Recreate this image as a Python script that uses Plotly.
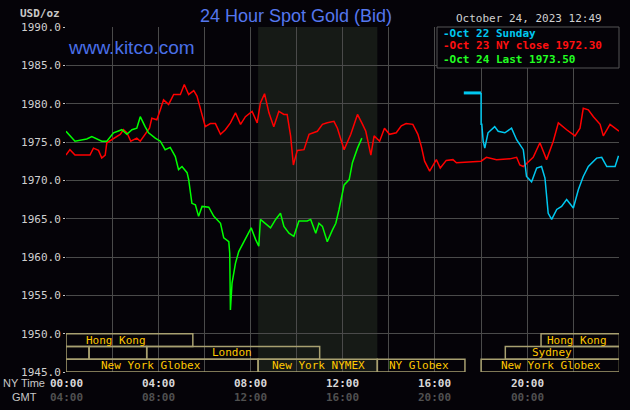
import plotly.graph_objects as go

# Oct 24 (green)
green_h = [0,0.39,0.9,1.12,1.55,1.77,2.06,2.42,2.64,2.86,3.07,3.22,3.43,3.58,3.87,4.09,4.3,4.52,4.74,4.88,5.03,5.25,5.32,5.46,5.61,5.75,5.9,6.19,6.41,6.7,6.84,7.06,7.1,7.13,7.2,7.35,7.49,7.68,7.86,8.03,8.22,8.36,8.43,8.65,8.87,9.09,9.3,9.45,9.67,9.88,10.1,10.46,10.61,10.83,10.97,11.12,11.33,11.55,11.7,11.84,12.06,12.28,12.42,12.64,12.83]
green_p = [1976.4,1975.1,1975.4,1975.7,1975.1,1975.1,1976.2,1976.6,1976.0,1976.6,1976.8,1978.3,1977.0,1976.2,1975.5,1975.1,1974.0,1974.3,1973.1,1971.4,1971.8,1971.0,1970.1,1967.0,1966.8,1965.3,1966.6,1966.5,1965.3,1964.4,1962.5,1962.0,1960.5,1953.1,1956.6,1959.2,1960.7,1961.8,1962.7,1963.8,1962.3,1961.4,1964.9,1964.4,1963.8,1964.9,1965.7,1964.0,1963.1,1962.7,1964.7,1964.7,1964.9,1963.1,1964.4,1964.0,1962.0,1963.5,1964.4,1966.2,1969.4,1970.1,1972.3,1974.2,1975.5]

# Oct 23 (red)
red_h = [0,0.17,0.39,1.04,1.19,1.41,1.55,1.7,1.77,2.06,2.35,2.49,2.64,2.81,3.07,3.22,3.43,3.62,3.72,3.94,4.09,4.23,4.45,4.67,4.96,5.13,5.32,5.54,5.68,5.83,6.04,6.26,6.48,6.7,6.91,7.13,7.35,7.57,7.78,8.07,8.29,8.43,8.61,8.8,9.01,9.23,9.45,9.59,9.74,9.86,10.03,10.32,10.54,10.9,11.12,11.33,11.62,11.77,12.06,12.35,12.64,12.86,13.0,13.22,13.36,13.6,13.81,14.03,14.32,14.54,14.75,15.04,15.26,15.41,15.55,15.77,16.06,16.23,16.49,16.78,16.93,18.0,18.23,18.67,19.25,19.54,19.68,19.83,20.26,20.55,20.84,21.13,21.35,21.71,22.07,22.29,22.43,22.65,22.87,23.16,23.3,23.59,23.98]
red_p = [1973.3,1974.0,1973.3,1973.3,1974.2,1973.9,1972.9,1973.3,1974.9,1975.5,1976.0,1976.6,1976.2,1975.1,1975.5,1975.1,1976.0,1976.8,1978.1,1977.9,1979.2,1980.5,1979.9,1981.2,1981.2,1982.5,1981.2,1981.7,1981.0,1979.4,1977.0,1977.4,1977.4,1976.0,1976.6,1977.5,1978.8,1977.3,1978.3,1979.0,1977.5,1980.1,1981.3,1978.8,1977.0,1979.0,1978.6,1978.6,1975.8,1972.0,1973.9,1974.0,1976.0,1976.4,1977.3,1977.5,1977.7,1976.8,1974.0,1976.0,1978.6,1977.3,1976.4,1973.3,1975.8,1975.1,1976.8,1976.0,1976.2,1977.1,1977.4,1977.3,1976.0,1974.4,1972.5,1971.2,1972.7,1971.6,1972.6,1972.7,1972.3,1972.5,1973.0,1972.7,1972.8,1973.0,1972.0,1971.8,1973.0,1974.9,1972.7,1975.1,1977.5,1976.6,1975.8,1976.8,1979.4,1979.2,1978.3,1977.3,1975.8,1977.3,1976.4]

# Oct 22 Sunday (blue)
blue_h = [17.25,18.0,18.0,18.03,18.09,18.16,18.3,18.59,18.74,19.03,19.32,19.54,19.83,19.97,20.19,20.41,20.62,20.77,20.91,21.06,21.28,21.49,21.71,22.0,22.22,22.43,22.65,23.01,23.23,23.45,23.81,23.96]
blue_p = [1981.4,1981.4,1977.3,1977.3,1975.1,1974.2,1976.2,1977.0,1976.4,1976.2,1976.8,1975.3,1974.0,1970.5,1969.8,1971.6,1971.8,1970.3,1965.7,1964.9,1966.2,1966.6,1967.5,1966.4,1968.8,1970.5,1971.8,1972.9,1973.0,1971.8,1971.8,1973.2]

x_ticks = [0, 4, 8, 12, 16, 20, 23.98]
ny_labels = ["00:00", "04:00", "08:00", "12:00", "16:00", "20:00", "23:59"]
gmt_labels = ["04:00", "08:00", "12:00", "16:00", "20:00", "00:00", "03:59"]

# sessions: (name, start, end, row, label center)
sessions = [
    ("Hong Kong", 0, 5.5, 0, 2.16),
    ("Hong Kong", 20.6, 24, 0, 22.16),
    ("", 0, 1, 1, None),
    ("", 1, 3.5, 1, None),
    ("London", 3.5, 11, 1, 7.2),
    ("Sydney", 19.05, 24, 1, 21.07),
    ("New York Globex", 0, 8.33, 2, 3.7),
    ("New York NYMEX", 8.33, 13.5, 2, 10.95),
    ("NY Globex", 13.5, 17.3, 2, 15.3),
    ("New York Globex", 18, 24, 2, 21.05),
]

mono = "DejaVu Sans Mono"
W, H, L, R, T, B = 630, 410, 66, 11, 27, 38
fig = go.Figure()

fig.add_vrect(x0=8.33, x1=13.5, fillcolor="#161a16", line_width=0, layer="below")

fig.add_trace(go.Scatter(x=red_h, y=red_p, mode="lines", line=dict(color="#ff0000", width=1.5)))
fig.add_trace(go.Scatter(x=blue_h[:2], y=blue_p[:2], mode="lines", line=dict(color="#00c8f0", width=3)))
fig.add_trace(go.Scatter(x=blue_h[1:], y=blue_p[1:], mode="lines", line=dict(color="#00c8f0", width=1.5)))
fig.add_trace(go.Scatter(x=green_h, y=green_p, mode="lines", line=dict(color="#00ff00", width=1.5)))

row_h = 5 / 3
for name, s, e, r, c in sessions:
    top = 1950 - r * row_h
    fig.add_shape(type="rect", x0=s, x1=e, y0=top - row_h, y1=top,
                  line=dict(color="#a8a070", width=1.5), fillcolor="rgba(0,0,0,0)")
    if name:
        fig.add_annotation(x=c, y=top - row_h / 2, text=name, showarrow=False,
                           font=dict(family=mono, size=11, color="#ffc800"))

def fann(px, py, text, size, color, family=mono, xanchor="left", bold=False):
    xp = (px - L) / (W - L - R)
    yp = 1 - (py - T) / (H - T - B)
    fig.add_annotation(x=xp, y=yp, xref="paper", yref="paper", text=f"<b>{text}</b>" if bold else text,
                       showarrow=False, xanchor=xanchor, yanchor="middle",
                       font=dict(family=family, size=size, color=color))

for i, (x, a, b) in enumerate(zip(x_ticks, ny_labels, gmt_labels)):
    anchor = "right" if i == len(x_ticks) - 1 else "center"
    yp1 = 1 - (383 - T) / (H - T - B)
    yp2 = 1 - (397 - T) / (H - T - B)
    fig.add_annotation(x=x if anchor == "center" else 24, y=yp1, xref="x", yref="paper", text=f"<b>{a}</b>",
                       showarrow=False, xanchor=anchor, yanchor="middle",
                       font=dict(family=mono, size=11, color="#d8d8d8"))
    fig.add_annotation(x=x if anchor == "center" else 24, y=yp2, xref="x", yref="paper", text=f"<b>{b}</b>",
                       showarrow=False, xanchor=anchor, yanchor="middle",
                       font=dict(family=mono, size=11, color="#505050"))

fann(296, 16, "24 Hour Spot Gold (Bid)", 18, "#5577ee", family="Liberation Sans", xanchor="center")
fann(18, 14, "USD/oz", 11, "#c8c8c8", bold=True)
fann(454, 19, "October 24, 2023 12:49", 11, "#d0d0d0")
fann(66, 48, "www.kitco.com", 19, "#4a70e8", family="Liberation Sans")
fann(1, 383, "NY Time", 11, "#c8c8c8", family="Liberation Sans")
fann(10, 397, "GMT", 11, "#c8c8c8", family="Liberation Sans")

fig.add_shape(type="rect", xref="paper", yref="paper",
              x0=(437 - L) / (W - L - R), x1=1.0, y0=1 - (68 - T) / (H - T - B), y1=1,
              fillcolor="#050308", line=dict(color="#555555", width=1))
fann(441, 34, "-Oct 22 Sunday", 11, "#00c8f0", bold=True)
fann(441, 46, "-Oct 23 NY close 1972.30", 11, "#ff1010", bold=True)
fann(441, 59, "-Oct 24 Last 1973.50", 11, "#22ff22", bold=True)

fig.update_layout(
    width=W, height=H, margin=dict(l=L, r=R, t=T, b=B),
    paper_bgcolor="#050308", plot_bgcolor="#050308", showlegend=False,
    xaxis=dict(range=[0, 23.98], dtick=2, tick0=0, showticklabels=False, showgrid=True,
               gridcolor="#4a4a4a", gridwidth=1, zeroline=False, showline=False, fixedrange=True),
    yaxis=dict(range=[1945, 1990], dtick=5, tickformat=".1f", showgrid=True, gridcolor="#4a4a4a",
               zeroline=False, ticks="outside", ticklen=2, tickcolor="#c8c8c8",
               tickfont=dict(family=mono, size=11, color="#d0d0d0"), fixedrange=True),
)
fig.write_html("out.html", config={"displayModeBar": False},
               post_script="document.body.style.margin='0';document.body.style.background='#050308';")
